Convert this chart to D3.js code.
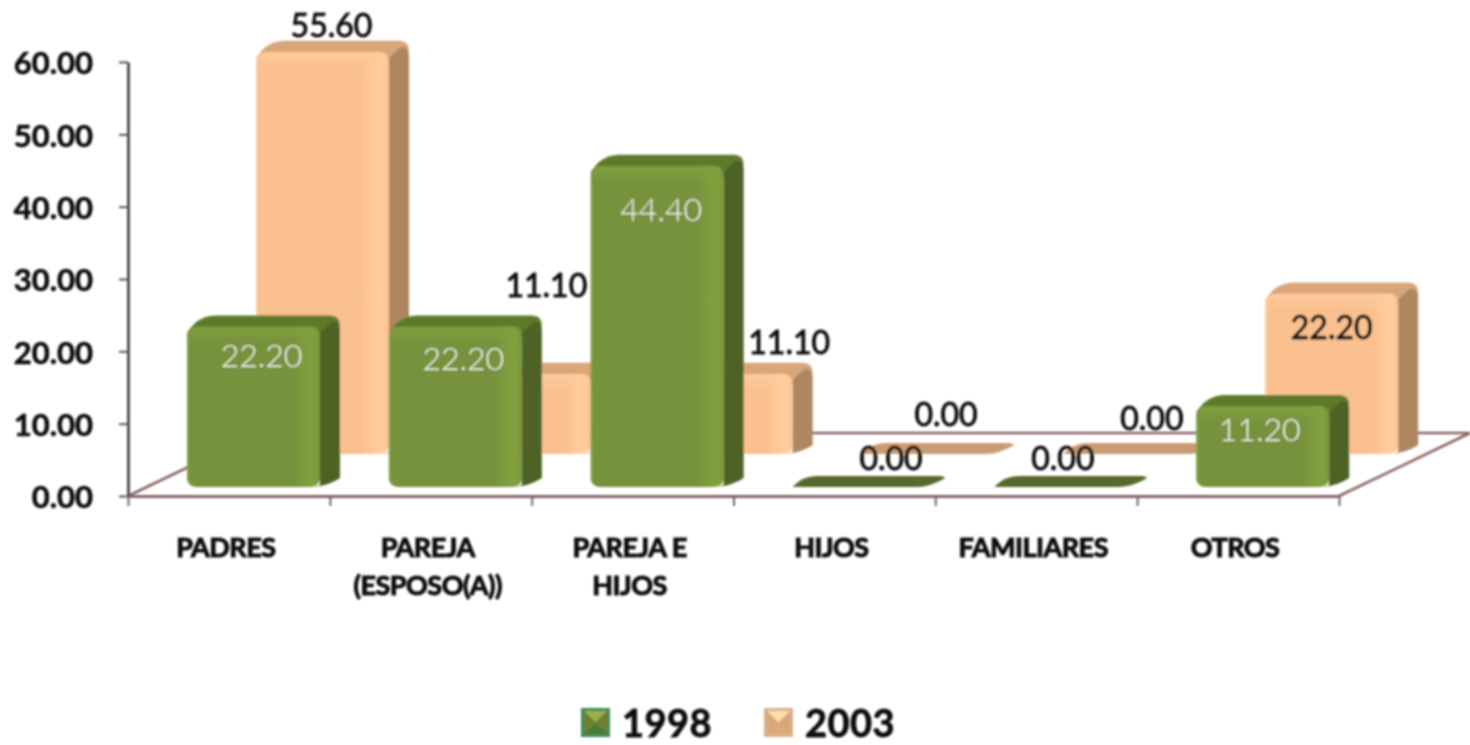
<!DOCTYPE html>
<html>
<head>
<meta charset="utf-8">
<script src="https://cdn.jsdelivr.net/npm/d3@7"></script>
<style>
    html, body { margin: 0; padding: 0; background: #fff; overflow: hidden; }
    text { font-family: Lato, "Open Sans", sans-serif; }
</style>
</head>
<body>
<div id="chart"></div>
<script>
var categories = [["PADRES"], ["PAREJA", "(ESPOSO(A))"], ["PAREJA E", "HIJOS"], ["HIJOS"], ["FAMILIARES"], ["OTROS"]];
var values1998 = [22.2, 22.2, 44.4, 0, 0, 11.2];
var values2003 = [55.6, 11.1, 11.1, 0, 0, 22.2];
var yTicks = [0, 10, 20, 30, 40, 50, 60];
var years = ["1998", "2003"];

// hand placed label nudges, from the top centre of each front face
var nudge1998 = [[8, 33], [8, 36], [4, 47], [32, -25], [2, -25], [-3, 27]];
var nudge2003 = [[9, -23], [22, -85], [63, -28], [18, -36], [22, -32], [0, 37]];

var width = 1470, height = 745;
var margin = { left: 128, right: 1339, top: 62, bottom: 496 };

var x = d3.scaleLinear().domain([0, categories.length]).range([margin.left, margin.right]);
var y = d3.scaleLinear().domain([0, 60]).range([margin.bottom, margin.top]);
var perUnit = y(0) - y(1);

var barWidth = 133;
var side = { dx: 20, dy: -11 };
var floorBack = { dx: 131, dy: -63 };
var seriesStyle = [
    { offset: 59, lift: 9, values: values1998, nudge: nudge1998, front: "#76923c", light: "#80a03e", side: "#4f6228", top: "#5d7a2c", flat: "#566b2b", label: "#f4f4ee", lstroke: 0 },
    { offset: 128, lift: 42, values: values2003, nudge: nudge2003, front: "#fac08f", light: "#ffcc9a", side: "#ae8660", top: "#d8a679", flat: "#c99b72", label: "#111", lstroke: 0.9 }
];

var svg = d3.select("#chart").append("svg")
    .attr("width", width)
    .attr("height", height)
    .style("display", "block");

var defs = svg.append("defs");
defs.append("filter").attr("id", "soft")
    .attr("filterUnits", "userSpaceOnUse")
    .attr("x", 0).attr("y", 0)
    .attr("width", width).attr("height", height)
    .append("feGaussianBlur").attr("stdDeviation", 1);

seriesStyle.forEach(function (s, i) {
    var g = defs.append("linearGradient").attr("id", "face" + i);
    [[0, s.light], [0.03, s.front], [0.8, s.front], [0.91, s.light], [0.96, s.light], [1, s.front]].forEach(function (st) {
        g.append("stop").attr("offset", st[0]).attr("stop-color", st[1]);
    });
    var v = defs.append("linearGradient").attr("id", "band" + i)
        .attr("x1", 0).attr("x2", 0).attr("y1", 0).attr("y2", 1);
    v.append("stop").attr("offset", 0).attr("stop-color", s.light).attr("stop-opacity", 0.9);
    v.append("stop").attr("offset", 1).attr("stop-color", s.light).attr("stop-opacity", 0);
});

var root = svg.append("g").attr("filter", "url(#soft)");

// floor
var floorColor = "#8c6465";
root.append("path")
    .attr("fill", "none")
    .attr("stroke", floorColor)
    .attr("stroke-width", 2.5)
    .attr("d", d3.line()([
        [x(0), y(0)],
        [x(0) + floorBack.dx, y(0) + floorBack.dy],
        [width, y(0) + floorBack.dy]
    ]));
root.append("path")
    .attr("fill", "none")
    .attr("stroke", floorColor)
    .attr("stroke-width", 2.5)
    .attr("d", d3.line()([
        [x(categories.length), y(0)],
        [x(categories.length) + floorBack.dx, y(0) + floorBack.dy]
    ]));

function drawBar(g, i, v, s, idx) {
    var x0 = x(i) + s.offset,
        x1 = x0 + barWidth,
        base = y(0) - s.lift,
        h = v * perUnit,
        t = base - h,
        dx = side.dx,
        dy = side.dy;

    if (v === 0) {
        g.append("path")
            .attr("fill", s.flat)
            .attr("d", "M" + x0 + "," + base + "L" + (x1 - 8) + "," + base +
                "Q" + (x1 + 4) + "," + base + " " + (x1 + dx) + "," + (base + dy + 2) +
                "L" + (x1 + dx - 4) + "," + (base + dy) +
                "L" + (x0 + dx + 4) + "," + (base + dy) +
                "Q" + (x0 + 10) + "," + (base + dy) + " " + x0 + "," + base + "Z");
        return;
    }

    // top
    g.append("path")
        .attr("fill", s.top)
        .attr("d", "M" + x0 + "," + (t + 8) +
            "Q" + (x0 + 8) + "," + (t + dy + 1) + " " + (x0 + dx + 8) + "," + (t + dy) +
            "L" + (x1 + dx - 10) + "," + (t + dy) +
            "Q" + (x1 + dx) + "," + (t + dy) + " " + (x1 + dx) + "," + (t + dy + 10) +
            "L" + x1 + "," + (t + 12) + "Z");
    // side
    g.append("path")
        .attr("fill", s.side)
        .attr("d", "M" + x1 + "," + (t + 6) +
            "L" + (x1 + dx - 8) + "," + (t + dy + 6) +
            "Q" + (x1 + dx) + "," + (t + dy + 6) + " " + (x1 + dx) + "," + (t + dy + 14) +
            "L" + (x1 + dx) + "," + (base + dy + 2) +
            "Q" + (x1 + 10) + "," + (base - 2) + " " + (x1 - 6) + "," + base +
            "L" + x1 + "," + (base - 2) + "Z");
    // front
    g.append("rect")
        .attr("x", x0).attr("y", t)
        .attr("width", barWidth).attr("height", h)
        .attr("rx", 10).attr("ry", 8)
        .attr("fill", "url(#face" + idx + ")");
    g.append("rect")
        .attr("x", x0 + 3).attr("y", t + 1)
        .attr("width", barWidth - 6).attr("height", 16)
        .attr("rx", 6)
        .attr("fill", "url(#band" + idx + ")");
}

// back series first, so the 1998 bars sit in front
var bars = root.append("g");
[1, 0].forEach(function (idx) {
    var s = seriesStyle[idx];
    s.values.forEach(function (v, i) {
        drawBar(bars.append("g"), i, v, s, idx);
    });
});

// axes
var yAxis = d3.axisLeft(y).tickValues(yTicks).tickSize(9).tickSizeOuter(0).tickPadding(26)
    .tickFormat(d3.format(".2f"));
var xAxis = d3.axisBottom(x).ticks(categories.length).tickSize(10).tickSizeOuter(0)
    .tickFormat("");

var gy = root.append("g")
    .attr("transform", "translate(" + margin.left + ",0)")
    .call(yAxis);
gy.select(".domain").attr("stroke", "#333").attr("stroke-width", 2.5);
gy.selectAll(".tick line").attr("stroke", "#555").attr("stroke-width", 2);
gy.selectAll(".tick text")
    .attr("y", 2)
    .attr("fill", "#111")
    .attr("stroke", "#111")
    .attr("stroke-width", 0.6)
    .style("font-size", "31px")
    .style("font-weight", 700);

var gx = root.append("g")
    .attr("transform", "translate(0," + margin.bottom + ")")
    .call(xAxis);
gx.select(".domain").attr("stroke", floorColor).attr("stroke-width", 3);
gx.selectAll(".tick line").attr("stroke", "#666").attr("stroke-width", 2);

// category labels
categories.forEach(function (lines, i) {
    var t = root.append("text")
        .attr("text-anchor", "middle")
        .attr("fill", "#111")
        .attr("stroke", "#111")
        .attr("stroke-width", 1)
        .style("font-size", "27px")
        .style("font-weight", 700)
        .style("letter-spacing", "-0.5px");
    lines.forEach(function (line, j) {
        t.append("tspan")
            .attr("x", (x(i) + x(i + 1)) / 2 - 3)
            .attr("y", 557 + j * 38)
            .text(line);
    });
});

// value labels
seriesStyle.forEach(function (s) {
    s.values.forEach(function (v, i) {
        var cx = x(i) + s.offset + barWidth / 2,
            top = y(0) - s.lift - v * perUnit,
            dark = v === 0 || s.lstroke > 0,
            colour = dark ? "#111" : s.label;
        root.append("text")
            .attr("x", cx + s.nudge[i][0])
            .attr("y", top + s.nudge[i][1])
            .attr("text-anchor", "middle")
            .attr("dominant-baseline", "middle")
            .attr("fill", colour)
            .attr("stroke", colour)
            .attr("stroke-width", dark ? 0.9 : 0)
            .style("font-size", "32px")
            .style("font-weight", dark ? 400 : 300)
            .text(v.toFixed(2));
    });
});

// legend
var legendX = [581, 764];
var legendBorder = ["#3f8a5a", "#d9b08c"];
var legendFaces = [["#9db04a", "#6f7f2e", "#4f7a35", "#6f7f2e"], ["#fde0ad", "#d8a679", "#e3a877", "#d8a679"]];
years.forEach(function (yr, i) {
    var lx = legendX[i], ly = 708, sz = 29, pad = 3;
    var g = root.append("g").attr("transform", "translate(" + lx + "," + ly + ")");
    g.append("rect").attr("width", sz).attr("height", sz).attr("fill", legendBorder[i]);
    var c = [sz / 2, sz / 2];
    var corners = [[pad, pad], [sz - pad, pad], [sz - pad, sz - pad], [pad, sz - pad]];
    corners.forEach(function (p, k) {
        g.append("path")
            .attr("fill", legendFaces[i][k])
            .attr("d", d3.line()([p, corners[(k + 1) % 4], c]));
    });
    root.append("text")
        .attr("x", lx + 41)
        .attr("y", 737)
        .attr("fill", "#111")
        .attr("stroke", "#111")
        .attr("stroke-width", 0.8)
        .style("font-size", "38px")
        .style("font-weight", 700)
        .style("letter-spacing", "0.5px")
        .text(yr);
});
</script>
</body>
</html>
